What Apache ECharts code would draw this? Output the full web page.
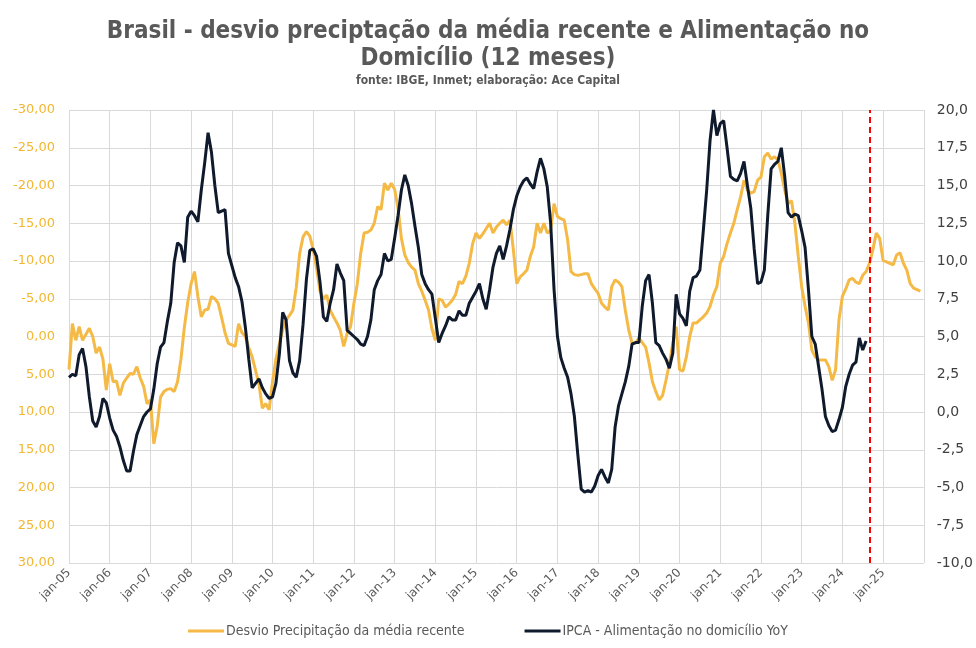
<!DOCTYPE html>
<html>
<head>
<meta charset="utf-8">
<title>Brasil - desvio precipitação e Alimentação no Domicílio</title>
<script src="https://cdn.jsdelivr.net/npm/echarts@6/dist/echarts.min.js"></script>
<style>
  html, body { margin: 0; padding: 0; background: #fff; }
  #chart { width: 976px; height: 648px; }
</style>
</head>
<body>
<div id="chart"></div>
<script>
// month names used on the category axis
const monthNames = ['jan', 'fev', 'mar', 'abr', 'mai', 'jun', 'jul', 'ago', 'set', 'out', 'nov', 'dez'];

// jan-05 .. jan-26 (the last one only closes the grid)
const months = [];
for (let y = 2005; y <= 2026; y++) {
    monthNames.forEach(m => months.push(m + '-' + String(y).slice(2)));
}
months.length = 253;

// Desvio precipitação da média recente (left axis, inverted), jan-05 .. dez-25
const precipitation = [
    4.4, -1.7, 0.5, -1.3, 0.5, -0.3, -1.1, 0.0, 2.2, 1.4, 3.0, 7.1,
    3.6, 6.0, 5.9, 7.8, 6.2, 5.5, 4.9, 5.0, 4.0, 5.5, 6.6, 8.9,
    8.4, 14.2, 11.9, 8.0, 7.3, 7.0, 6.9, 7.3, 6.0, 3.0, -1.2, -4.5,
    -7.0, -8.6, -5.3, -2.6, -3.5, -3.6, -5.3, -5.0, -4.4, -2.5, -0.5, 0.9,
    1.1, 1.3, -1.7, -0.5, 0.0, 1.5, 2.7, 4.5, 6.3, 9.5, 8.9, 9.7,
    6.0, 3.0, 1.0, -0.9, -2.2, -2.8, -3.5, -6.5, -11.0, -13.2, -13.9, -13.3,
    -11.5, -9.0, -6.0, -5.0, -5.5, -3.5, -2.6, -1.8, -0.8, 1.3, -0.4, -1.3,
    -4.4, -7.0, -11.0, -13.7, -13.8, -14.1, -15.0, -17.2, -16.8, -20.3, -19.4, -20.3,
    -19.5, -17.0, -13.0, -10.8, -9.8, -9.2, -8.8, -7.0, -6.0, -4.8, -3.5, -1.0,
    0.5, -5.0, -4.8, -3.9, -4.3, -4.8, -5.6, -7.3, -7.0, -8.0, -9.7, -12.3,
    -13.7, -13.0, -13.6, -14.3, -15.0, -13.7, -14.5, -15.0, -15.4, -14.8, -15.4, -11.5,
    -7.0, -7.9, -8.3, -8.8, -10.6, -11.9, -15.0, -13.7, -15.0, -13.7, -14.1, -17.6,
    -15.9, -15.6, -15.4, -12.8, -8.6, -8.2, -8.1, -8.2, -8.3, -8.3, -7.0, -6.3,
    -5.7, -4.4, -3.9, -3.5, -6.6, -7.5, -7.2, -6.6, -3.5, -0.9, 0.9, 0.9,
    0.2, 0.8, 1.4, 3.5, 6.0, 7.3, 8.4, 7.8, 5.8, 3.6, 0.9, -1.3,
    4.4, 4.6, 2.7, 0.0, -1.8, -1.8, -2.2, -2.6, -3.1, -4.0, -5.5, -6.6,
    -9.7, -10.6, -12.3, -13.7, -15.0, -16.8, -18.5, -20.7, -19.4, -19.0, -19.2, -20.7,
    -21.1, -23.8, -24.3, -23.5, -23.8, -23.4, -21.6, -19.4, -17.6, -18.0, -15.0, -10.6,
    -6.6, -4.0, -1.8, 1.8, 2.7, 3.1, 3.1, 3.1, 4.0, 5.8, 4.4, -2.2,
    -5.3, -6.3, -7.5, -7.7, -7.2, -7.0, -8.1, -8.6, -9.7, -11.5, -13.7, -13.0,
    -10.1, -9.9, -9.7, -9.5, -10.8, -11.1, -9.7, -8.8, -7.0, -6.4, -6.2, -6.0
];

// IPCA - Alimentação no domicílio YoY (right axis), jan-05 .. ago-24
const foodAtHome = [
    2.3, 2.5, 2.4, 3.8, 4.2, 3.0, 1.0, -0.6, -1.0, -0.3, 0.9, 0.6,
    -0.4, -1.2, -1.6, -2.3, -3.2, -3.9, -3.9, -2.6, -1.5, -0.9, -0.3, 0.0,
    0.2, 1.5, 3.2, 4.3, 4.6, 6.0, 7.2, 9.9, 11.2, 11.0, 9.9, 12.9,
    13.3, 13.0, 12.6, 14.7, 16.5, 18.5, 17.2, 15.0, 13.2, 13.3, 13.4, 10.5,
    9.7, 8.9, 8.3, 7.3, 5.6, 3.5, 1.6, 1.9, 2.2, 1.6, 1.2, 0.9,
    1.0, 1.9, 3.8, 6.6, 6.1, 3.4, 2.6, 2.3, 3.4, 5.8, 8.8, 10.7,
    10.8, 10.3, 8.6, 6.3, 6.0, 7.2, 8.1, 9.8, 9.2, 8.7, 5.4, 5.2,
    5.0, 4.8, 4.5, 4.4, 5.0, 6.1, 8.1, 8.7, 9.1, 10.5, 10.0, 10.1,
    11.5, 13.0, 14.7, 15.7, 15.0, 13.8, 12.3, 10.9, 9.1, 8.5, 8.1, 7.8,
    6.2, 4.6, 5.2, 5.7, 6.3, 6.1, 6.1, 6.7, 6.4, 6.4, 7.2, 7.6,
    8.0, 8.5, 7.5, 6.8, 8.1, 9.6, 10.5, 11.0, 10.1, 11.0, 12.1, 13.4,
    14.3, 14.9, 15.3, 15.5, 15.1, 14.8, 15.9, 16.8, 16.1, 14.9, 12.5, 8.1,
    5.0, 3.6, 2.9, 2.3, 1.2, -0.3, -2.8, -5.1, -5.3, -5.2, -5.3, -4.9,
    -4.2, -3.8, -4.3, -4.7, -3.8, -1.0, 0.4, 1.2, 2.0, 3.0, 4.5, 4.6,
    4.6, 7.0, 8.7, 9.1, 7.2, 4.6, 4.4, 3.9, 3.5, 2.9, 3.9, 7.8,
    6.5, 6.2, 5.7, 8.0, 8.9, 9.0, 9.4, 12.0, 14.7, 18.0, 20.0, 18.3,
    19.1, 19.3, 17.5, 15.6, 15.4, 15.3, 15.8, 16.6, 15.0, 13.5, 10.8, 8.5,
    8.6, 9.4, 13.0, 16.1, 16.4, 16.6, 17.5, 15.6, 13.2, 12.9, 13.1, 13.0,
    12.0, 10.9, 8.1, 5.0, 4.5, 3.0, 1.5, -0.3, -0.9, -1.3, -1.2, -0.5,
    0.3, 1.7, 2.5, 3.1, 3.3, 4.9, 4.1, 4.7
];

// month of the red dashed marker
const markerMonth = 'set-24';

const leftTicks = { min: -30, max: 30, step: 5 };
const rightTicks = { min: -10, max: 20, step: 2.5 };

const chart = echarts.init(document.getElementById('chart'));

const gridLine = { lineStyle: { color: '#d9d9d9', width: 1 } };
const condensed = '"DejaVu Sans Condensed", "DejaVu Sans", sans-serif';
const plain = '"DejaVu Sans", sans-serif';

const option = {
    backgroundColor: '#ffffff',
    animation: false,
    textStyle: { fontFamily: condensed },
    title: {
        left: 'center',
        top: 13,
        text: 'Brasil - desvio preciptação da média recente e Alimentação no\nDomicílio (12 meses)',
        subtext: 'fonte: IBGE, Inmet; elaboração: Ace Capital',
        itemGap: 3,
        textStyle: {
            fontFamily: condensed,
            fontSize: 24,
            fontWeight: 'bold',
            color: '#595959',
            lineHeight: 27
        },
        subtextStyle: {
            fontFamily: condensed,
            fontSize: 12,
            fontWeight: 'bold',
            color: '#595959'
        }
    },
    legend: {
        bottom: 5,
        left: 'center',
        icon: 'rect',
        itemWidth: 36,
        itemHeight: 3,
        itemGap: 60,
        textStyle: { fontFamily: condensed, fontSize: 14, color: '#595959', padding: [0, 0, 0, -3] },
        data: ['Desvio Precipitação da média recente', 'IPCA - Alimentação no domicílio YoY']
    },
    grid: { left: 69, right: 51, top: 110, bottom: 85 },
    xAxis: {
        type: 'category',
        data: months,
        boundaryGap: false,
        axisLine: { show: true, lineStyle: { color: '#d9d9d9' } },
        axisTick: { show: false },
        axisLabel: {
            rotate: 45,
            fontFamily: plain,
            fontSize: 12,
            color: '#595959',
            margin: 8,
            interval: function (index) { return index % 12 === 0 && index < 252; }
        },
        splitLine: {
            show: true,
            interval: function (index) { return index % 12 === 0; },
            lineStyle: { color: '#d9d9d9' }
        }
    },
    yAxis: [
        {
            type: 'value',
            inverse: true,
            min: leftTicks.min,
            max: leftTicks.max,
            interval: leftTicks.step,
            axisLine: { show: false },
            axisTick: { show: false },
            axisLabel: {
                fontFamily: plain,
                fontSize: 13,
                color: '#f2b731',
                margin: 14,
                formatter: v => v.toFixed(2).replace('.', ',')
            },
            splitLine: gridLine
        },
        {
            type: 'value',
            min: rightTicks.min,
            max: rightTicks.max,
            interval: rightTicks.step,
            axisLine: { show: false },
            axisTick: { show: false },
            axisLabel: {
                fontFamily: plain,
                fontSize: 14,
                color: '#404040',
                margin: 13,
                formatter: v => v.toFixed(1).replace('.', ',')
            },
            splitLine: { show: false }
        }
    ],
    series: [
        {
            name: 'Desvio Precipitação da média recente',
            type: 'line',
            yAxisIndex: 0,
            data: precipitation,
            showSymbol: false,
            symbol: 'none',
            color: '#f5b945',
            lineStyle: { width: 3, color: '#f5b945' },
            z: 2
        },
        {
            name: 'IPCA - Alimentação no domicílio YoY',
            type: 'line',
            yAxisIndex: 1,
            data: foodAtHome,
            showSymbol: false,
            symbol: 'none',
            color: '#0f1a2c',
            lineStyle: { width: 3, color: '#0f1a2c' },
            z: 3,
            markLine: {
                silent: true,
                symbol: 'none',
                label: { show: false },
                lineStyle: { color: '#ff0000', type: [6, 4], width: 2 },
                data: [{ xAxis: markerMonth }]
            }
        }
    ]
};

chart.setOption(option);
</script>
</body>
</html>
